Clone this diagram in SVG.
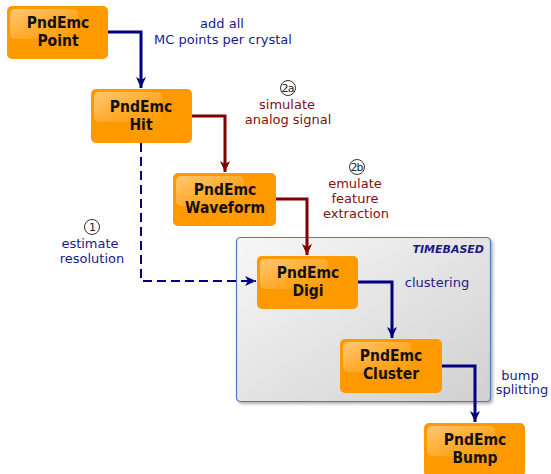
<svg xmlns="http://www.w3.org/2000/svg" width="551" height="474" viewBox="0 0 551 474">
<defs>
<linearGradient id="grp" x1="0" y1="0" x2="1" y2="1">
<stop offset="0" stop-color="#f7f7f7"/>
<stop offset="1" stop-color="#d0d0d0"/>
</linearGradient>
<linearGradient id="gloss" x1="0" y1="0" x2="1" y2="1">
<stop offset="0" stop-color="#ffffff" stop-opacity="0.45"/>
<stop offset="0.6" stop-color="#ffffff" stop-opacity="0.15"/>
<stop offset="1" stop-color="#ffffff" stop-opacity="0.02"/>
</linearGradient>
<filter id="sh" x="-10%" y="-10%" width="130%" height="130%">
<feDropShadow dx="2" dy="2" stdDeviation="1.5" flood-color="#000" flood-opacity="0.3"/>
</filter>
<marker id="ab" markerUnits="userSpaceOnUse" markerWidth="12" markerHeight="12" viewBox="0 0 12 12" refX="11" refY="6" orient="auto">
<path d="M0,1 L11,6 L0,11 L3,6 Z" fill="#000080"/>
</marker>
<marker id="ar" markerUnits="userSpaceOnUse" markerWidth="12" markerHeight="12" viewBox="0 0 12 12" refX="11" refY="6" orient="auto">
<path d="M0,1 L11,6 L0,11 L3,6 Z" fill="#800000"/>
</marker>
</defs>
<style>
.box{fill:#ff9900;}
.gl{fill:url(#gloss);}
.nt{font-family:"DejaVu Sans Condensed","DejaVu Sans",sans-serif;font-stretch:condensed;font-weight:bold;font-size:15.5px;fill:#111;text-anchor:middle;}
.lb{font-family:"DejaVu Sans",Verdana,sans-serif;font-size:13px;fill:#1a1a8a;text-anchor:middle;}
.lr{font-family:"DejaVu Sans",Verdana,sans-serif;font-size:13px;fill:#801010;text-anchor:middle;}
.num{font-family:"DejaVu Sans",Verdana,sans-serif;font-size:11px;fill:#222;text-anchor:middle;letter-spacing:-0.8px;}
.cir{fill:#fff;stroke:#333;stroke-width:1;}
.cb{fill:none;stroke:#000080;stroke-width:3;marker-end:url(#ab);}
.cr{fill:none;stroke:#800000;stroke-width:3;marker-end:url(#ar);}
.cd{fill:none;stroke:#000080;stroke-width:2;stroke-dasharray:9,5;marker-end:url(#ab);}
</style>
<rect width="551" height="474" fill="#fff"/>

<g id="timebased">
<rect x="236.5" y="237.5" width="254" height="164" rx="4" fill="url(#grp)" stroke="#4f74c4" stroke-width="1.2" filter="url(#sh)"/>
<text x="484" y="253" font-family="DejaVu Sans,Verdana,sans-serif" font-size="11" font-weight="bold" font-style="italic" fill="#1a1a80" text-anchor="end">TIMEBASED</text>
</g>

<g id="connectors">
<path class="cb" d="M108,32 H141 V88"/>
<path class="cr" d="M192,116 H225 V172"/>
<path class="cr" d="M276,199 H307 V255"/>
<path class="cd" d="M141,143 V281 H256"/>
<path class="cb" d="M358,282 H392 V338"/>
<path class="cb" d="M442,366 H475 V422"/>
</g>

<g id="labels">
<text class="lb" x="222" y="28">add all</text>
<text class="lb" x="223" y="44">MC points per crystal</text>
<circle class="cir" cx="288" cy="88" r="7.5"/>
<text class="num" x="287.6" y="92">2a</text>
<text class="lr" x="287" y="109">simulate</text>
<text class="lr" x="288" y="124">analog signal</text>
<circle class="cir" cx="357" cy="167" r="7.5"/>
<text class="num" x="356.6" y="171">2b</text>
<text class="lr" x="355" y="188">emulate</text>
<text class="lr" x="355" y="203">feature</text>
<text class="lr" x="356" y="218">extraction</text>
<circle class="cir" cx="92" cy="227" r="7.5"/>
<text class="num" x="92" y="231">1</text>
<text class="lb" x="90" y="248">estimate</text>
<text class="lb" x="92" y="263">resolution</text>
<text class="lb" x="437" y="287">clustering</text>
<text class="lb" x="520" y="380">bump</text>
<text class="lb" x="522" y="394">splitting</text>
</g>

<g id="point">
<rect class="box" x="7" y="6" width="101" height="53" rx="5"/>
<rect class="gl" x="10" y="9" width="68" height="30" rx="5"/>
<text class="nt" x="58" y="28">PndEmc</text>
<text class="nt" x="58" y="46">Point</text>
</g>
<g id="hit">
<rect class="box" x="91" y="89" width="101" height="54" rx="5"/>
<rect class="gl" x="94" y="92" width="68" height="30" rx="5"/>
<text class="nt" x="141" y="112">PndEmc</text>
<text class="nt" x="141" y="130">Hit</text>
</g>
<g id="waveform">
<rect class="box" x="173" y="173" width="103" height="53" rx="5"/>
<rect class="gl" x="176" y="176" width="68" height="30" rx="5"/>
<text class="nt" x="225" y="195">PndEmc</text>
<text class="nt" x="225" y="213">Waveform</text>
</g>
<g id="digi">
<rect class="box" x="257" y="256" width="101" height="53" rx="5"/>
<rect class="gl" x="260" y="259" width="68" height="30" rx="5"/>
<text class="nt" x="308" y="278">PndEmc</text>
<text class="nt" x="308" y="296">Digi</text>
</g>
<g id="cluster">
<rect class="box" x="340" y="339" width="102" height="54" rx="5"/>
<rect class="gl" x="343" y="342" width="68" height="30" rx="5"/>
<text class="nt" x="391" y="361">PndEmc</text>
<text class="nt" x="391" y="379">Cluster</text>
</g>
<g id="bump">
<rect class="box" x="424" y="423" width="101" height="54" rx="5"/>
<rect class="gl" x="427" y="426" width="68" height="30" rx="5"/>
<text class="nt" x="475" y="445">PndEmc</text>
<text class="nt" x="475" y="463">Bump</text>
</g>
</svg>
